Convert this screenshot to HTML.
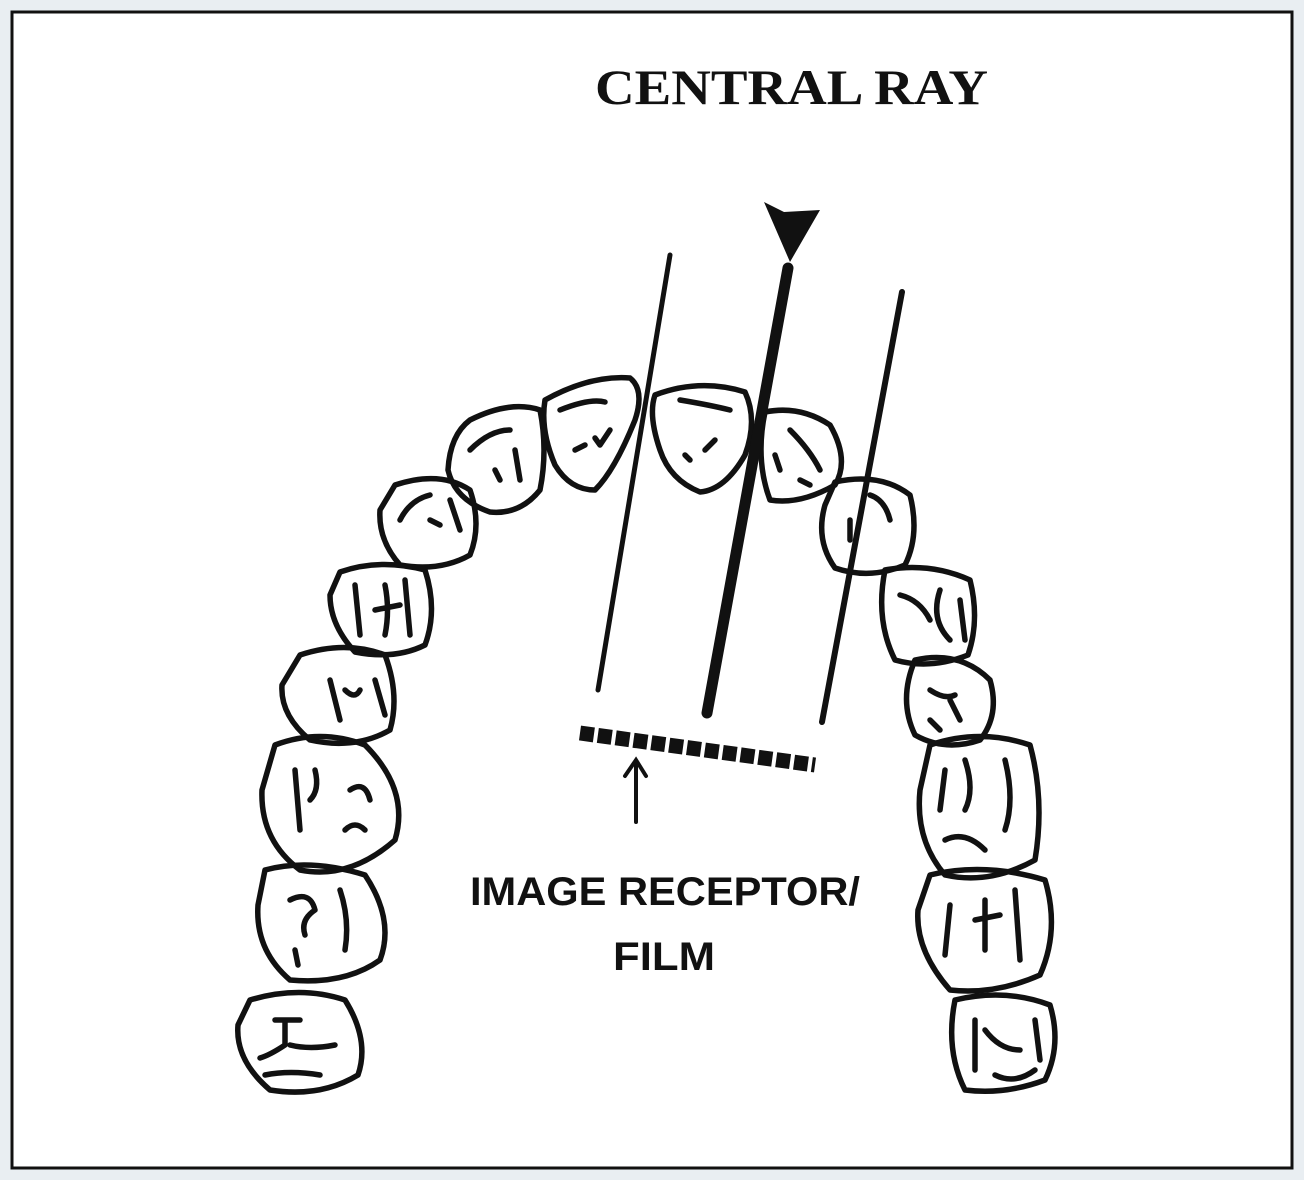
<!DOCTYPE html>
<html><head><style>
html,body{margin:0;padding:0;background:#e9eef2;}
body{width:1304px;height:1180px;position:relative;overflow:hidden;}
svg{position:absolute;left:0;top:0;}
</style></head><body>
<svg width="1304" height="1180" viewBox="0 0 1304 1180">
<rect x="12" y="12" width="1280" height="1156" fill="#fff" stroke="#111" stroke-width="3"/>
<text x="595" y="104" font-family="Liberation Serif, serif" font-weight="bold" font-size="50" fill="#111" textLength="393" lengthAdjust="spacingAndGlyphs">CENTRAL RAY</text>
<g fill="none" stroke="#111" stroke-width="5.5" stroke-linejoin="round" stroke-linecap="round">
<path d="M545,400 Q590,375 630,378 Q645,390 635,420 Q615,470 595,490 Q570,490 555,465 Q540,430 545,400Z"/>
<path d="M470,420 Q510,400 540,410 Q548,450 540,490 Q520,515 490,512 Q455,500 448,470 Q450,435 470,420Z"/>
<path d="M395,485 Q440,470 470,490 Q482,525 470,555 Q440,572 400,565 Q378,540 380,510Z"/>
<path d="M340,572 Q380,558 425,570 Q438,610 425,645 Q395,660 355,652 Q330,625 330,595Z"/>
<path d="M300,655 Q345,640 385,655 Q400,695 390,730 Q355,750 310,740 Q280,715 282,685Z"/>
<path d="M275,745 Q320,728 365,745 Q410,790 395,840 Q350,880 300,870 Q260,840 262,790Z"/>
<path d="M265,870 Q310,858 365,875 Q395,920 380,960 Q345,985 290,980 Q255,950 258,905Z"/>
<path d="M250,1000 Q300,985 345,1000 Q370,1040 358,1075 Q320,1098 270,1090 Q235,1060 238,1025Z"/>
<path d="M655,395 Q700,378 745,392 Q758,420 745,455 Q725,490 700,492 Q670,480 660,450 Q648,415 655,395Z"/>
<path d="M765,412 Q800,405 830,425 Q850,460 835,485 Q800,505 770,500 Q755,460 765,412Z"/>
<path d="M835,482 Q880,472 910,495 Q920,535 905,565 Q870,580 835,568 Q815,540 825,505Z"/>
<path d="M885,570 Q930,562 970,580 Q980,620 968,655 Q930,670 895,660 Q875,620 885,570Z"/>
<path d="M915,660 Q960,650 990,680 Q1000,715 980,740 Q945,752 915,735 Q898,700 915,660Z"/>
<path d="M930,745 Q980,728 1030,745 Q1045,800 1035,860 Q990,885 945,875 Q915,840 920,790Z"/>
<path d="M930,875 Q985,862 1045,880 Q1060,930 1040,975 Q995,995 950,990 Q915,950 918,910Z"/>
<path d="M955,1000 Q1005,988 1050,1005 Q1062,1045 1045,1080 Q1005,1095 965,1090 Q945,1050 955,1000Z"/>
<path d="M560,410 Q590,398 605,402 M575,450 L585,445 M595,438 L600,445 L610,430"/>
<path d="M680,400 Q710,405 730,410 M685,455 L690,460 M705,450 L715,440"/>
<path d="M470,450 Q490,430 510,430 M495,470 L500,480 M515,450 L520,480"/>
<path d="M400,520 Q410,500 430,495 M430,520 L440,525 M450,500 L460,530"/>
<path d="M355,585 L360,635 M385,585 Q390,610 385,635 M375,610 L400,605 M405,580 L410,635"/>
<path d="M330,680 L340,720 M345,690 Q355,700 360,690 M375,680 L385,715"/>
<path d="M295,770 L300,830 M315,770 Q320,790 310,800 M350,790 Q365,780 370,800 M345,830 Q355,820 365,830"/>
<path d="M290,900 Q310,890 315,910 Q300,920 305,935 M295,950 L298,965 M340,890 Q350,920 345,950"/>
<path d="M275,1020 L300,1020 M285,1020 L285,1045 Q270,1055 260,1058 M290,1045 Q310,1050 335,1045 M265,1075 Q290,1070 320,1075"/>
<path d="M790,430 Q810,450 820,470 M775,455 L780,470 M800,480 L810,485"/>
<path d="M850,520 L850,540 M870,495 Q885,500 890,520"/>
<path d="M900,595 Q920,600 930,620 M940,590 Q930,620 950,640 M960,600 L965,640"/>
<path d="M930,690 Q945,700 955,695 M950,700 L960,720 M930,720 L940,730"/>
<path d="M945,770 L940,810 M965,760 Q975,790 965,810 M1005,760 Q1015,800 1005,830 M945,840 Q965,830 985,850"/>
<path d="M950,905 L945,955 M975,920 L1000,915 M985,900 L985,950 M1015,890 L1020,960"/>
<path d="M975,1020 L975,1070 M985,1030 Q1000,1050 1020,1050 M1035,1020 L1040,1060 M995,1075 Q1015,1085 1035,1070"/>
</g>
<g stroke="#111" stroke-linecap="round">
<line x1="670" y1="255" x2="598" y2="690" stroke-width="5"/>
<line x1="788" y1="268" x2="707" y2="713" stroke-width="11"/>
<line x1="902" y1="292" x2="822" y2="722" stroke-width="6"/>
</g>
<path d="M764,202 L784,212 L820,210 L790,262Z" fill="#111"/>
<line x1="580" y1="733" x2="815" y2="765" stroke="#111" stroke-width="15" stroke-dasharray="14 4"/>
<g stroke="#111" stroke-width="4" fill="none" stroke-linecap="round">
<line x1="636" y1="822" x2="636" y2="762"/>
<path d="M625,776 L636,760 L646,776"/>
</g>
<text x="665" y="905" text-anchor="middle" font-family="Liberation Sans Narrow, Liberation Sans, sans-serif" font-weight="bold" font-size="40" fill="#111" textLength="390" lengthAdjust="spacingAndGlyphs">IMAGE RECEPTOR/</text>
<text x="664" y="970" text-anchor="middle" font-family="Liberation Sans Narrow, Liberation Sans, sans-serif" font-weight="bold" font-size="40" fill="#111" textLength="102" lengthAdjust="spacingAndGlyphs">FILM</text>
</svg>
</body></html>
